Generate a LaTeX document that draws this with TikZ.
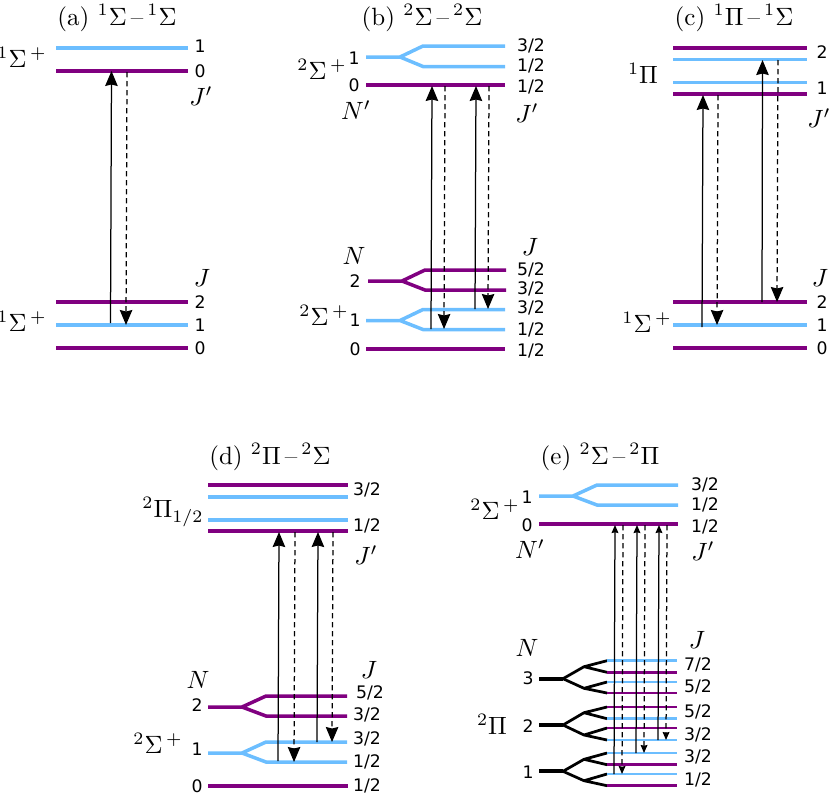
\documentclass[tikz,border=0pt]{standalone}
\usepackage{fontspec}
\newfontfamily\numfont{DejaVu Sans}
\usetikzlibrary{arrows.meta}
\definecolor{lvlblue}{RGB}{108,190,255}
\definecolor{lvlpurple}{RGB}{128,0,128}
\newcommand{\dsh}{\kern1.6pt--\kern1.6pt}
\tikzset{
	lvlb/.style={draw=lvlblue,line width=1.4pt},
	lvlp/.style={draw=lvlpurple,line width=1.4pt},
	lvlk/.style={draw=black,line width=1.1pt},
	num/.style={font=\numfont\fontsize{6.9}{8}\selectfont,inner sep=0pt},
	txt/.style={inner sep=0pt},
	up/.style={-{Stealth[length=6pt,width=5pt,inset=0.6pt]},line width=0.5pt},
	dn/.style={up,dash pattern=on 2.1pt off 1.5pt},
	upsmall/.style={-{Stealth[length=3.2pt,width=2.7pt,inset=0.3pt]},line width=0.5pt},
	dnsmall/.style={upsmall,dash pattern=on 2.1pt off 1.5pt}
}

\begin{document}
\begin{tikzpicture}[x=0.4pt,y=-0.4pt]
	\useasboundingbox (0,0) rectangle (831,793);
	% titles
	\node[txt] (ta) at (117,18) {(a) $^1\Sigma$\dsh$^1\Sigma$};
	\node[txt] (tb) at (422,18) {(b) $^2\Sigma$\dsh$^2\Sigma$};
	\node[txt] (tc) at (734,18) {(c) $^1\Pi$\dsh$^1\Sigma$};
	\node[txt] (td) at (270,457) {(d) $^2\Pi$\dsh$^2\Sigma$};
	\node[txt] (te) at (600,457) {(e) $^2\Sigma$\dsh$^2\Pi$};
	% flat levels
	\foreach \y in {48,325} \draw[lvlb] (56,\y) -- (188,\y);
	\foreach \y in {71,302,348} \draw[lvlp] (56,\y) -- (188,\y);
	\foreach \y in {85,349} \draw[lvlp] (366,\y) -- (505,\y);
	\foreach \y in {59.5,82.5,325} \draw[lvlb] (673,\y) -- (807,\y);
	\foreach \y in {48,94,302,348} \draw[lvlp] (673,\y) -- (807,\y);
	\foreach \y in {497,520} \draw[lvlb] (208,\y) -- (348,\y);
	\foreach \y in {485,531,786} \draw[lvlp] (208,\y) -- (348,\y);
	\draw[lvlp] (539,524) -- (678,524);
	% split levels
	\draw[lvlb] (366,57) -- (400,57) -- (423,46) -- (505,46) (400,57) -- (423,66.5) -- (505,66.5);
	\draw[lvlp] (368,281) -- (402,281) -- (425,270) -- (506,270) (402,281) -- (425,290) -- (506,290);
	\draw[lvlb] (366,320.5) -- (400,320.5) -- (423,309.5) -- (505,309.5) (400,320.5) -- (423,329.5) -- (505,329.5);
	\draw[lvlp] (208,707) -- (242,707) -- (266,696) -- (347,696) (242,707) -- (266,716) -- (347,716);
	\draw[lvlb] (208,753) -- (242,753) -- (266,742) -- (347,742) (242,753) -- (266,762) -- (347,762);
	\draw[lvlb] (539,496) -- (573,496) -- (597,485) -- (678,485) (573,496) -- (597,505) -- (678,505);
	% panel e, lower state
	\foreach \y/\ya/\yb/\yc/\yd/\ym/\yn in {678.7/660.7/672.3/682/693/666.7/688.3,725/707/718.7/728/740/712.7/735,771.3/753/764.7/774/785.7/759.3/780.7} {
		\draw[lvlk,line width=1.5pt] (539,\y) -- (563,\y);
		\draw[lvlk] (563,\y) -- (584,\ym) -- (607,\ya) (584,\ym) -- (607,\yb);
		\draw[lvlk] (563,\y) -- (584,\yn) -- (607,\yc) (584,\yn) -- (607,\yd);
	}
	\foreach \y in {660.7,682,718.7,740,753,774} \draw[lvlb,line width=1pt] (607,\y) -- (677,\y);
	\foreach \y in {672.3,693,707,728,764.7,785.7} \draw[lvlp,line width=1pt] (607,\y) -- (677,\y);
	% number labels
	\foreach \n/\x/\y/\t in {
		aa/200/46/1,ab/200/71/0,ac/200/302/2,ad/200/325/1,ae/200/348/0,
		ba/354/58/1,bb/354/85/0,bc/355/281/2,bd/355/320/1,be/355/349/0,
		bf/531/46/{3/2},bg/531/66/{1/2},bh/531/87/{1/2},bi/531/270/{5/2},bj/531/289/{3/2},bk/531/308/{3/2},bl/531/330/{1/2},bm/531/351/{1/2},
		ca/822/52/2,cb/822/88/1,cc/822/302/2,cd/822/325/1,ce/822/348/0,
		da/367/490/{3/2},db/367/526/{1/2},dc/370/693/{5/2},dd/367/715/{3/2},de/367/739/{3/2},df/367/762/{1/2},dg/367/786/{1/2},
		dh/197/705/2,di/197/749/1,dj/197/786/0,
		ea/527/497/1,eb/527/525/0,ec/528/678/3,ed/528/726/2,ee/528/772/1,
		ef/705/485/{3/2},eg/705/505/{1/2},eh/705/527/{1/2},
		ei/698/665/{7/2},ej/698/687/{5/2},ek/698/712/{5/2},el/698/735/{3/2},em/698/757/{3/2},en/698/780/{1/2}
	} \node[num] (\n) at (\x,\y) {\t};
	% state labels
	\foreach \n/\x/\y/\t in {
		sa/22/57/{$^1\Sigma^{\,+}$},sb/22/321/{$^1\Sigma^{\,+}$},
		sc/322/69/{$^2\Sigma^{\,+}$},sd/324/315/{$^2\Sigma^{\,+}$},
		se/643/73/{$^1\Pi$},sf/647/322/{$^1\Sigma^{\,+}$},
		sg/173/512/{$^2\Pi_{1/2}$},sh/158/743/{$^2\Sigma^{\,+}$},
		si/495/509/{$^2\Sigma^{\,+}$},sj/492/724/{$^2\Pi$},
		ja/201/96/{$J'$},jb/202/278/{$J$},
		jc/527/113/{$J'$},jd/530/247/{$J$},ne/356/110/{$N'$},nf/354/256/{$N$},
		jg/819/118/{$J'$},jh/820/278/{$J$},
		ji/366/555/{$J'$},jj/369/670/{$J$},nk/198/680/{$N$},
		jl/703/551/{$J'$},jm/697/640/{$J$},nn/530/549/{$N'$},no/527/648/{$N$}
	} \node[txt] (\n) at (\x,\y) {\t};
	% transition ends
	\foreach \n/\x/\y in {
		a1/110.5/323,a2/111.5/71,a3/127/72,a4/126/325,
		b1/431/329,b2/432/86,b3/445/86,b4/444/329,b5/475/309,b6/476/86,b7/489/86,b8/488/309,
		c1/702/327,c2/703/95,c3/718/95,c4/717/325,c5/762/302,c6/762.5/60,c7/778/60,c8/777/302,
		d1/278/761,d2/279/532,d3/295/532,d4/294/762,d5/317/742,d6/318/532,d7/333/532,d8/332/742,
		e1/614/774,e2/615/525,e3/623/525,e4/622/774,e5/636/753,e6/637/525,e7/645/525,e8/644/753,e9/658/740,e10/659/525,e11/667/525,e12/666/740
	} \coordinate (\n) at (\x,\y);
	\path
	(a1) edge[up] (a2)
	(a3) edge[dn] (a4)
	(b1) edge[up] (b2)
	(b3) edge[dn] (b4)
	(b5) edge[up] (b6)
	(b7) edge[dn] (b8)
	(c1) edge[up] (c2)
	(c3) edge[dn] (c4)
	(c5) edge[up] (c6)
	(c7) edge[dn] (c8)
	(d1) edge[up] (d2)
	(d3) edge[dn] (d4)
	(d5) edge[up] (d6)
	(d7) edge[dn] (d8)
	(e1) edge[upsmall] (e2)
	(e3) edge[dnsmall] (e4)
	(e5) edge[upsmall] (e6)
	(e7) edge[dnsmall] (e8)
	(e9) edge[upsmall] (e10)
	(e11) edge[dnsmall] (e12);
\end{tikzpicture}
\end{document}
